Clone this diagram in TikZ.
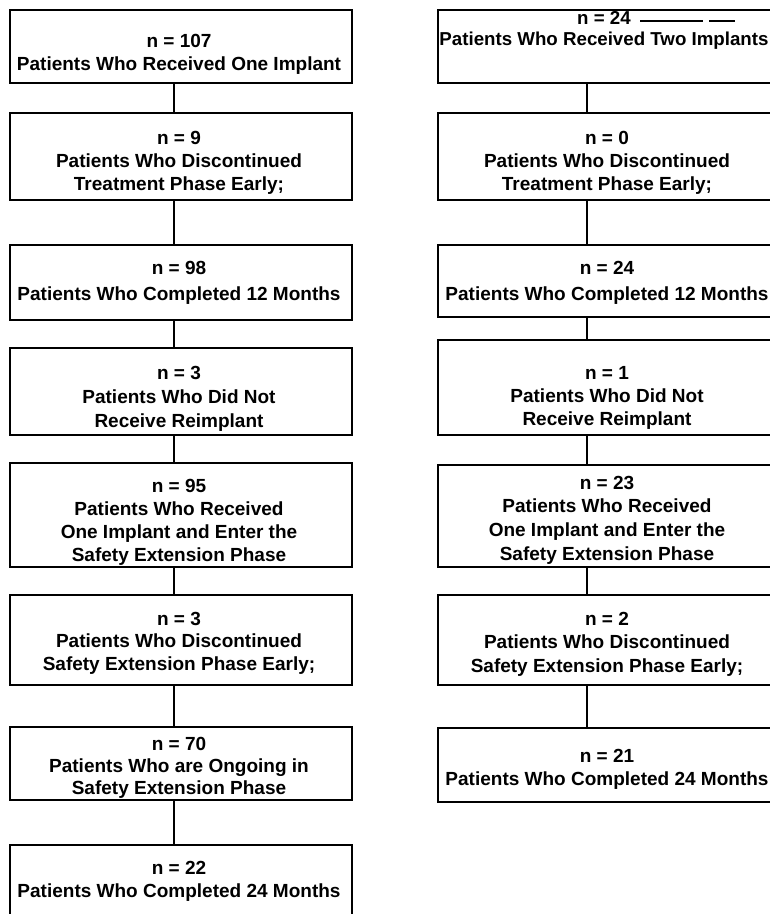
\documentclass[tikz,border=0pt]{standalone}
\usepackage{fontspec}
\setmainfont{Liberation Sans}
\begin{document}
\begin{tikzpicture}[x=1pt,y=-1pt,
  boxn/.style={draw=black, line width=1.9pt, rectangle, inner sep=0pt, minimum width=342pt},
  txt/.style={anchor=north, inner sep=0pt, align=center, font=\bfseries\fontsize{19}{23}\selectfont},
  link/.style={draw=black, line width=1.9pt}]
\useasboundingbox (0,0) rectangle (770,914);
\fill[white] (0,0) rectangle (770,914);
% column axes of the connectors
\coordinate (xL) at (174,0);
\coordinate (xR) at (587,0);
% left column boxes
\node[boxn, minimum height=73pt] (L1) at (181,46.5) {};
\node[boxn, minimum height=87pt] (L2) at (181,156.5) {};
\node[boxn, minimum height=75pt] (L3) at (181,282.5) {};
\node[boxn, minimum height=87pt] (L4) at (181,391.5) {};
\node[boxn, minimum height=104pt] (L5) at (181,515) {};
\node[boxn, minimum height=90pt] (L6) at (181,640) {};
\node[boxn, minimum height=73pt] (L7) at (181,763.5) {};
\node[boxn, minimum height=75pt] (L8) at (181,882.5) {};
% right column boxes
\node[boxn, minimum height=73pt] (R1) at (609,46.5) {};
\node[boxn, minimum height=87pt] (R2) at (609,156.5) {};
\node[boxn, minimum height=72pt] (R3) at (609,281) {};
\node[boxn, minimum height=95pt] (R4) at (609,387.5) {};
\node[boxn, minimum height=102pt] (R5) at (609,516) {};
\node[boxn, minimum height=90pt] (R6) at (609,640) {};
\node[boxn, minimum height=74pt] (R7) at (609,765) {};
% left texts
\node[txt] (L1t) at (179,32.8) {\rule{0pt}{14pt}n = 107\\Patients Who Received One Implant};
\node[txt] (L2t) at (179,129.8) {\rule{0pt}{14pt}n = 9\\Patients Who Discontinued\\Treatment Phase Early;};
\node[txt, font=\bfseries\fontsize{19}{26}\selectfont] (L3t) at (179,259.8) {\rule{0pt}{14pt}n = 98\\Patients Who Completed 12 Months};
\node[txt, font=\bfseries\fontsize{19}{24}\selectfont] (L4t) at (179,364.8) {\rule{0pt}{14pt}n = 3\\Patients Who Did Not\\Receive Reimplant};
\node[txt, font=\bfseries\fontsize{19}{23.3}\selectfont] (L5t) at (179,477.8) {\rule{0pt}{14pt}n = 95\\Patients Who Received\\One Implant and Enter the\\Safety Extension Phase};
\node[txt, font=\bfseries\fontsize{19}{22.5}\selectfont] (L6t) at (179,610.8) {\rule{0pt}{14pt}n = 3\\Patients Who Discontinued\\Safety Extension Phase Early;};
\node[txt, font=\bfseries\fontsize{19}{22}\selectfont] (L7t) at (179,735.8) {\rule{0pt}{14pt}n = 70\\Patients Who are Ongoing in\\Safety Extension Phase};
\node[txt] (L8t) at (179,859.8) {\rule{0pt}{14pt}n = 22\\Patients Who Completed 24 Months};
% right texts
\node[txt, font=\bfseries\fontsize{18.7}{21}\selectfont] (R1t) at (604,9.8) {\rule{0pt}{14pt}n = 24\\Patients Who Received Two Implants};
\node[txt] (R2t) at (607,129.8) {\rule{0pt}{14pt}n = 0\\Patients Who Discontinued\\Treatment Phase Early;};
\node[txt, font=\bfseries\fontsize{19}{26}\selectfont] (R3t) at (607,259.8) {\rule{0pt}{14pt}n = 24\\Patients Who Completed 12 Months};
\node[txt] (R4t) at (607,364.8) {\rule{0pt}{14pt}n = 1\\Patients Who Did Not\\Receive Reimplant};
\node[txt, font=\bfseries\fontsize{19}{23.7}\selectfont] (R5t) at (607,474.8) {\rule{0pt}{14pt}n = 23\\Patients Who Received\\One Implant and Enter the\\Safety Extension Phase};
\node[txt, font=\bfseries\fontsize{19}{23.5}\selectfont] (R6t) at (607,610.8) {\rule{0pt}{14pt}n = 2\\Patients Who Discontinued\\Safety Extension Phase Early;};
\node[txt] (R7t) at (607,747.8) {\rule{0pt}{14pt}n = 21\\Patients Who Completed 24 Months};
% strokes after "n = 24"
\coordinate (d1a) at (640,21); \coordinate (d1b) at (703,21);
\coordinate (d2a) at (709,21); \coordinate (d2b) at (735,21);
\draw[line width=1.6pt] (d1a) -- (d1b);
\draw[line width=1.6pt] (d2a) -- (d2b);
% connectors, left column
\foreach \a/\b in {L1/L2,L2/L3,L3/L4,L4/L5,L5/L6,L6/L7,L7/L8}
  \draw[link] (\a.south -| xL) -- (\b.north -| xL);
% connectors, right column
\foreach \a/\b in {R1/R2,R2/R3,R3/R4,R4/R5,R5/R6,R6/R7}
  \draw[link] (\a.south -| xR) -- (\b.north -| xR);
\end{tikzpicture}
\end{document}
